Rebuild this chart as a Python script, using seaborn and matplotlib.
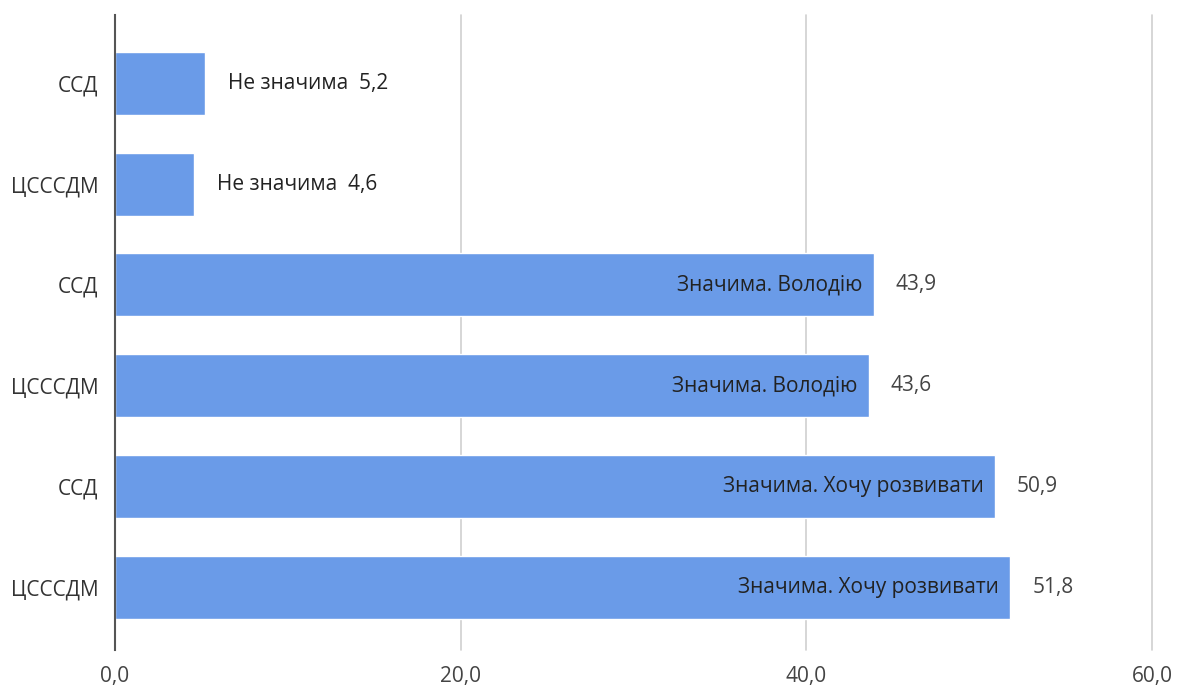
import matplotlib
matplotlib.use("Agg")
import matplotlib.pyplot as plt
import seaborn as sns
import pandas as pd
from matplotlib.transforms import offset_copy

categories = ["ССД", "ЦСССДМ", "ССД", "ЦСССДМ", "ССД", "ЦСССДМ"]
values = [5.2, 4.6, 43.9, 43.6, 50.9, 51.8]
answers = ["Не значима", "Не значима", "Значима. Володію", "Значима. Володію",
           "Значима. Хочу розвивати", "Значима. Хочу розвивати"]
value_labels = ["5,2", "4,6", "43,9", "43,6", "50,9", "51,8"]
x_ticks = [0, 20, 40, 60]
x_tick_labels = ["0,0", "20,0", "40,0", "60,0"]

sns.set_theme(style="white")
plt.rcParams['font.family'] = ['Open Sans', 'DejaVu Sans']

df = pd.DataFrame({"key": [f"r{i}" for i in range(len(values))], "value": values})

fig = plt.figure(figsize=(11.77, 6.91), dpi=100)
ax = fig.add_axes([0.0977, 0.059, 0.881, 0.919])

sns.barplot(data=df, x="value", y="key", orient="h", color="#6A9BE8",
            saturation=1, width=0.625, ax=ax)

ax.set_xlim(0, 60)
ax.set_ylim(5.625, -0.675)
ax.set_xticks(x_ticks)
ax.set_xticklabels(x_tick_labels, fontsize=15, color="#444444")
ax.set_yticks(range(len(categories)))
ax.set_yticklabels(categories, fontsize=15, color="#333333")
ax.set_xlabel("")
ax.set_ylabel("")
ax.tick_params(axis="both", length=0)
ax.tick_params(axis="x", pad=11)
ax.tick_params(axis="y", pad=12)

for s in ["top", "right", "bottom"]:
    ax.spines[s].set_visible(False)
ax.spines["left"].set_color("#555555")
ax.spines["left"].set_linewidth(1.5)
ax.spines["left"].set_zorder(5)

ax.xaxis.grid(True, color="#d0d0d0", linewidth=1.2)
ax.set_axisbelow(True)
for gl in ax.get_xgridlines():
    gl.set_clip_on(False)

for i, (v, a, lbl) in enumerate(zip(values, answers, value_labels)):
    if v < 20:
        tr = offset_copy(ax.transData, fig=fig, x=23, y=0, units="dots")
        ax.text(v, i, f"{a}  {lbl}", transform=tr, ha="left", va="center",
                fontsize=15, color="#222222")
    else:
        tr_in = offset_copy(ax.transData, fig=fig, x=-11, y=0, units="dots")
        ax.text(v, i, a, transform=tr_in, ha="right", va="center",
                fontsize=15, color="#222222")
        tr_out = offset_copy(ax.transData, fig=fig, x=22, y=0, units="dots")
        ax.text(v, i, lbl, transform=tr_out, ha="left", va="center",
                fontsize=15, color="#444444")

fig.savefig("out.png", dpi=100)
